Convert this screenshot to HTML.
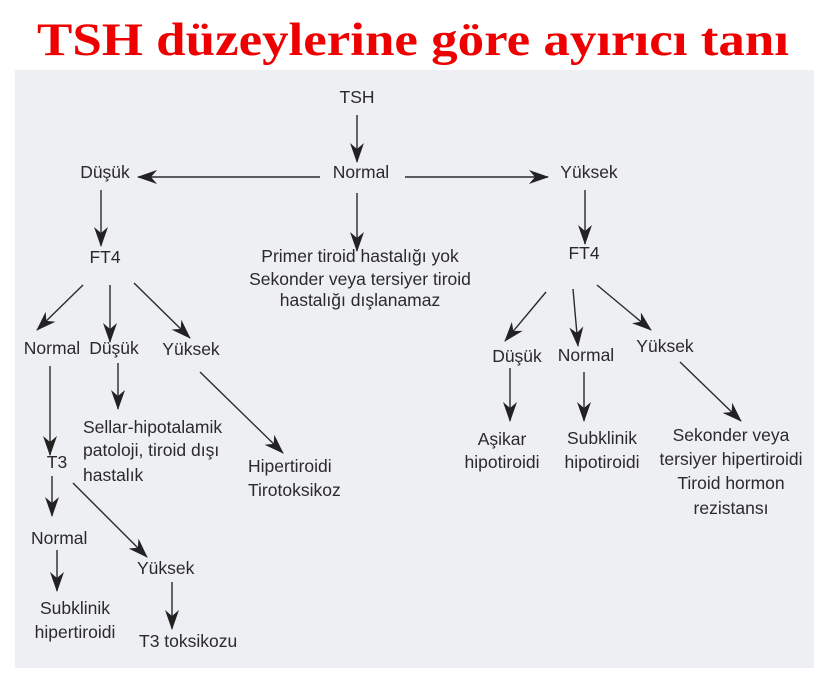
<!DOCTYPE html>
<html><head><meta charset="utf-8"><style>
html,body{margin:0;padding:0;background:#fff;}
svg{display:block}
.t{font-family:"Liberation Sans",sans-serif;font-size:17.5px;fill:#2a2a2a;dominant-baseline:central}
.m{text-anchor:middle}
</style></head><body>
<svg width="827" height="677" viewBox="0 0 827 677">
<defs><marker id="a" markerWidth="20" markerHeight="14" refX="19" refY="7" orient="auto" markerUnits="userSpaceOnUse"><path d="M0,0 L20,7 L0,14 L6,7 Z" fill="#222"/></marker></defs>
<text x="413" y="55" text-anchor="middle" font-family="Liberation Serif,serif" font-weight="bold" font-size="47" fill="#ee0000" textLength="752" lengthAdjust="spacingAndGlyphs">TSH düzeylerine göre ayırıcı tanı</text>
<rect x="15" y="70" width="799" height="598" fill="#eeeff3"/>
<g stroke="#2a2a2a" stroke-width="1.4" fill="none" marker-end="url(#a)">
<line x1="357" y1="115" x2="357" y2="162"/>
<line x1="320" y1="177" x2="138" y2="177"/>
<line x1="405" y1="177" x2="548" y2="177"/>
<line x1="101" y1="190" x2="101" y2="246"/>
<line x1="357" y1="193" x2="357" y2="251"/>
<line x1="585" y1="190" x2="585" y2="244"/>
<line x1="83" y1="285" x2="37" y2="330"/>
<line x1="110" y1="285" x2="110" y2="342"/>
<line x1="134" y1="283" x2="190" y2="338"/>
<line x1="50" y1="366" x2="50" y2="455"/>
<line x1="118" y1="363" x2="118" y2="409"/>
<line x1="200" y1="372" x2="283" y2="453"/>
<line x1="52" y1="476" x2="52" y2="516"/>
<line x1="57" y1="550" x2="57" y2="591"/>
<line x1="73" y1="483" x2="147" y2="557"/>
<line x1="172" y1="582" x2="172" y2="629"/>
<line x1="546" y1="292" x2="505" y2="341"/>
<line x1="573" y1="289" x2="578" y2="346"/>
<line x1="597" y1="285" x2="651" y2="330"/>
<line x1="510" y1="368" x2="510" y2="421"/>
<line x1="584" y1="372" x2="584" y2="421"/>
<line x1="680" y1="362" x2="741" y2="421"/>
</g>
<text class="t m" x="357" y="97">TSH</text>
<text class="t m" x="361" y="172">Normal</text>
<text class="t m" x="105" y="172">Düşük</text>
<text class="t m" x="589" y="172">Yüksek</text>
<text class="t m" x="105" y="257">FT4</text>
<text class="t m" x="360" y="256">Primer tiroid hastalığı yok</text>
<text class="t m" x="360" y="279">Sekonder veya tersiyer tiroid</text>
<text class="t m" x="360" y="300">hastalığı dışlanamaz</text>
<text class="t m" x="584" y="253">FT4</text>
<text class="t m" x="52" y="348">Normal</text>
<text class="t m" x="114" y="348">Düşük</text>
<text class="t m" x="191" y="349">Yüksek</text>
<text class="t m" x="57" y="462">T3</text>
<text class="t" x="83" y="427">Sellar-hipotalamik</text>
<text class="t" x="83" y="450">patoloji,  tiroid dışı</text>
<text class="t" x="83" y="475">hastalık</text>
<text class="t" x="248" y="466">Hipertiroidi</text>
<text class="t" x="248" y="490">Tirotoksikoz</text>
<text class="t" x="31" y="538">Normal</text>
<text class="t m" x="75" y="608">Subklinik</text>
<text class="t m" x="75" y="632">hipertiroidi</text>
<text class="t" x="137" y="568">Yüksek</text>
<text class="t" x="139" y="641">T3 toksikozu</text>
<text class="t m" x="517" y="356">Düşük</text>
<text class="t m" x="586" y="355">Normal</text>
<text class="t m" x="665" y="346">Yüksek</text>
<text class="t m" x="502" y="439">Aşikar</text>
<text class="t m" x="502" y="462">hipotiroidi</text>
<text class="t m" x="602" y="438">Subklinik</text>
<text class="t m" x="602" y="462">hipotiroidi</text>
<text class="t m" x="731" y="435">Sekonder veya</text>
<text class="t m" x="731" y="459">tersiyer hipertiroidi</text>
<text class="t m" x="731" y="483">Tiroid hormon</text>
<text class="t m" x="731" y="508">rezistansı</text>
</svg>
</body></html>
